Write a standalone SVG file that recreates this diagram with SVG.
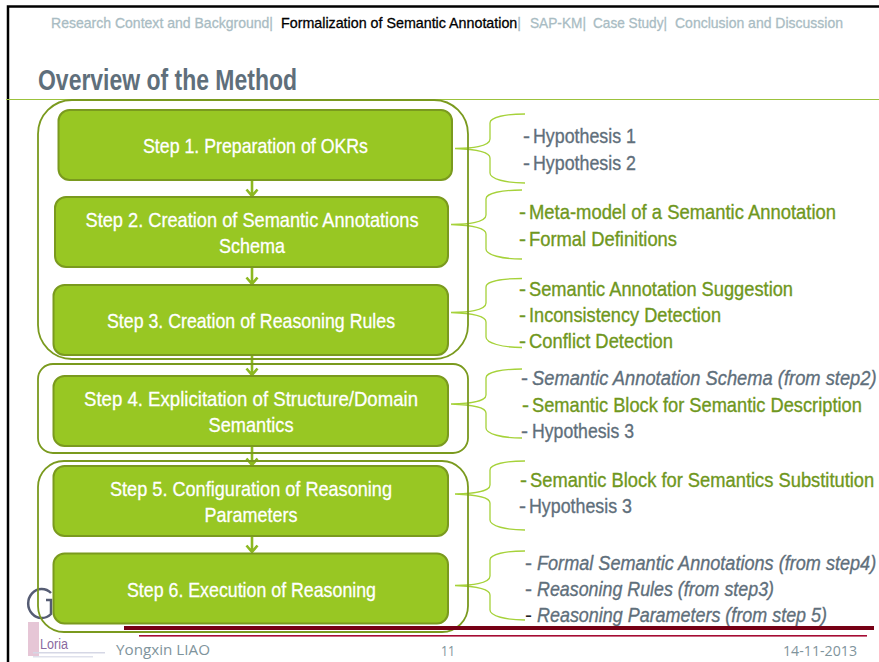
<svg xmlns="http://www.w3.org/2000/svg" width="879" height="662" viewBox="0 0 879 662">
<style>
text{font-family:"Liberation Sans Narrow","Liberation Sans",Arial,sans-serif}
.h{font-size:15px;fill:#a9bcc3;stroke:#a9bcc3;stroke-width:.3}
.ha{font-size:15px;fill:#000;stroke:#000;stroke-width:.3}
.title{font-size:29px;font-weight:bold;fill:#5f6f7b}
.node{fill:#98c723;stroke:#7a9a1e;stroke-width:2}
.frame{fill:none;stroke:#7a9a1e;stroke-width:1.800}
.st{font-size:21px;fill:#fff;stroke:#fff;stroke-width:.3;text-anchor:middle}
.li{font-size:21px}
.g{fill:#6f9720;stroke:#6f9720;stroke-width:.35}
.s{fill:#5f6f7b;stroke:#5f6f7b;stroke-width:.35}
.i{font-style:italic}
.brace{fill:none;stroke:#a6d23a;stroke-width:1.300}
.arrow{fill:none;stroke:#8cb820;stroke-width:2.600}
.foot{font-family:"Open Sans","DejaVu Sans",sans-serif;font-size:14px;fill:#7f949c}
</style>
<rect width="879" height="662" fill="#fff"/>
<path d="M8 662V6.500H879" fill="none" stroke="#000" stroke-width="2.500"/>
<line x1="6" y1="99.500" x2="879" y2="99.500" stroke="#9cc23c" stroke-width="1"/>

<g id="header">
<text class="h" x="51" y="28" textLength="222" lengthAdjust="spacingAndGlyphs">Research Context and Background|</text>
<text x="281" y="28" textLength="240" lengthAdjust="spacingAndGlyphs"><tspan class="ha">Formalization of Semantic Annotation</tspan><tspan class="h">|</tspan></text>
<text class="h" x="530" y="28" textLength="56" lengthAdjust="spacingAndGlyphs">SAP-KM|</text>
<text class="h" x="593" y="28" textLength="74" lengthAdjust="spacingAndGlyphs">Case Study|</text>
<text class="h" x="675" y="28" textLength="168" lengthAdjust="spacingAndGlyphs">Conclusion and Discussion</text>
</g>
<text class="title" x="38" y="90" textLength="259" lengthAdjust="spacingAndGlyphs">Overview of the Method</text>

<g id="logo">
<path d="M51 593A13.500 14.500 0 1 0 51 614V600H46" fill="none" stroke="#2a3350" stroke-width="2.500" opacity=".8"/>
<rect x="28" y="622" width="11" height="34" fill="#e6c6d6"/>
<text x="40" y="649" font-size="14" fill="#8a6aa0" textLength="28" lengthAdjust="spacingAndGlyphs">Loria</text>
<rect x="33" y="652" width="72" height="1.500" fill="#d5d7e5"/>
<rect x="33" y="656" width="60" height="1.500" fill="#dfe1ec"/>
</g>

<g id="connectors">
<g class="arrow">
<path d="M252 181V196M246.500 189.500L252 196L257.500 189.500"/>
<path d="M252 268V284M246.500 277.500L252 284L257.500 277.500"/>
<path d="M252 356V375M246.500 368.500L252 375L257.500 368.500"/>
<path d="M252 447V465M246.500 458.500L252 465L257.500 458.500"/>
<path d="M252 537V552M246.500 545.500L252 552L257.500 545.500"/>
</g>
<g class="brace">
<path d="M455 148.500C470 148 490 147 490 139V123C490 117 506 114 525 114M455 148.500C470 149 490 151 490 158V173C490 179 506 183 525 183"/>
<path d="M451 224.500C466 224 486 223 486 215V199C486 193 502 190 522 190M451 224.500C466 225 486 227 486 234V249C486 255 502 259 522 259"/>
<path d="M451 312.500C466 312 486 311 486 303V287C486 281 502 278.500 522 278.500M451 312.500C466 313 486 315 486 322V337C486 343 502 347.500 522 347.500"/>
<path d="M451 404C466 403.500 486 402.500 486 395V378C486 372 502 369 522 369M451 404C466 404.500 486 406.500 486 413V428C486 434 502 438 522 438"/>
<path d="M455 494C470 493.500 490 492.500 490 485V470C490 464 506 461 525 461M455 494C470 494.500 490 496.500 490 503V520C490 526 506 530 525 530"/>
<path d="M455 585.500C470 585 490 584 490 576V560C490 554 506 551 525 551M455 585.500C470 586 490 588 490 595V610C490 616 506 620 525 620"/>
</g>
</g>

<rect id="frame1" class="frame" x="38" y="100" width="430" height="259" rx="34"/>
<rect id="frame2" class="frame" x="38" y="364" width="430" height="89" rx="15"/>
<rect id="frame3" class="frame" x="38" y="461" width="430" height="171" rx="26"/>

<g id="step1"><rect class="node" x="58.500" y="110" width="393.500" height="70" rx="11"/><text class="st" x="255.500" y="153" textLength="225" lengthAdjust="spacingAndGlyphs">Step 1. Preparation of OKRs</text></g>
<g id="step2"><rect class="node" x="55" y="197" width="393" height="70" rx="11"/><text class="st" x="252" y="227" textLength="333" lengthAdjust="spacingAndGlyphs">Step 2. Creation of Semantic Annotations</text><text class="st" x="252" y="253" textLength="66" lengthAdjust="spacingAndGlyphs">Schema</text></g>
<g id="step3"><rect class="node" x="53.500" y="285" width="394.500" height="70" rx="11"/><text class="st" x="251" y="328" textLength="288" lengthAdjust="spacingAndGlyphs">Step 3. Creation of Reasoning Rules</text></g>
<g id="step4"><rect class="node" x="53.500" y="376" width="394.500" height="70" rx="11"/><text class="st" x="251" y="406" textLength="334" lengthAdjust="spacingAndGlyphs">Step 4. Explicitation of Structure/Domain</text><text class="st" x="251" y="432" textLength="85" lengthAdjust="spacingAndGlyphs">Semantics</text></g>
<g id="step5"><rect class="node" x="53.500" y="466" width="394.500" height="70" rx="11"/><text class="st" x="251" y="496" textLength="282" lengthAdjust="spacingAndGlyphs">Step 5. Configuration of Reasoning</text><text class="st" x="251" y="522" textLength="93" lengthAdjust="spacingAndGlyphs">Parameters</text></g>
<g id="step6"><rect class="node" x="53.500" y="553.500" width="394.500" height="70" rx="11"/><text class="st" x="251.500" y="597" textLength="249" lengthAdjust="spacingAndGlyphs">Step 6. Execution of Reasoning</text></g>

<g id="notes1">
<text class="li s" x="523" y="143">-</text><text class="li s" x="533" y="143" textLength="103" lengthAdjust="spacingAndGlyphs">Hypothesis 1</text>
<text class="li s" x="523" y="170">-</text><text class="li s" x="533" y="170" textLength="103" lengthAdjust="spacingAndGlyphs">Hypothesis 2</text>
</g>
<g id="notes2">
<text class="li g" x="519" y="219">-</text><text class="li g" x="529" y="219" textLength="307" lengthAdjust="spacingAndGlyphs">Meta-model of a Semantic Annotation</text>
<text class="li g" x="519" y="246">-</text><text class="li g" x="529" y="246" textLength="148" lengthAdjust="spacingAndGlyphs">Formal Definitions</text>
</g>
<g id="notes3">
<text class="li g" x="519" y="296">-</text><text class="li g" x="529" y="296" textLength="264" lengthAdjust="spacingAndGlyphs">Semantic Annotation Suggestion</text>
<text class="li g" x="519" y="322">-</text><text class="li g" x="529" y="322" textLength="192" lengthAdjust="spacingAndGlyphs">Inconsistency Detection</text>
<text class="li g" x="519" y="348">-</text><text class="li g" x="529" y="348" textLength="144" lengthAdjust="spacingAndGlyphs">Conflict Detection</text>
</g>
<g id="notes4">
<text class="li s" x="521" y="385">-</text><text class="li s i" transform="translate(532 385) scale(.873 1)">Semantic Annotation Schema (from step2)</text>
<text class="li g" x="522" y="412">-</text><text class="li g" transform="translate(532 412) scale(.87 1)">Semantic Block for Semantic Description</text>
<text class="li s" x="521" y="438">-</text><text class="li s" x="532" y="438" textLength="102" lengthAdjust="spacingAndGlyphs">Hypothesis 3</text>
</g>
<g id="notes5">
<text class="li g" x="520" y="487">-</text><text class="li g" transform="translate(530 487) scale(.873 1)">Semantic Block for Semantics Substitution</text>
<text class="li s" x="519" y="513">-</text><text class="li s" x="529" y="513" textLength="103" lengthAdjust="spacingAndGlyphs">Hypothesis 3</text>
</g>
<g id="notes6">
<text class="li s" x="525" y="570">-</text><text class="li s i" transform="translate(537 570) scale(.862 1)">Formal Semantic Annotations (from step4)</text>
<text class="li s" x="525" y="596">-</text><text class="li s i" x="537" y="596" textLength="237" lengthAdjust="spacingAndGlyphs">Reasoning Rules (from step3)</text>
<text class="li" x="525" y="622" fill="#222">-</text><text class="li s i" x="537" y="622" textLength="290" lengthAdjust="spacingAndGlyphs">Reasoning Parameters (from step 5)</text>
</g>

<rect x="124" y="626" width="750" height="4" fill="#760015"/>
<rect x="139" y="635" width="728" height="1.600" fill="#a50b33"/>
<g id="footer">
<text class="foot" x="116" y="655" textLength="94" lengthAdjust="spacingAndGlyphs">Yongxin LIAO</text>
<text class="foot" x="441" y="656" textLength="14" lengthAdjust="spacingAndGlyphs">11</text>
<text class="foot" x="783" y="656" textLength="74" lengthAdjust="spacingAndGlyphs">14-11-2013</text>
</g>
</svg>
